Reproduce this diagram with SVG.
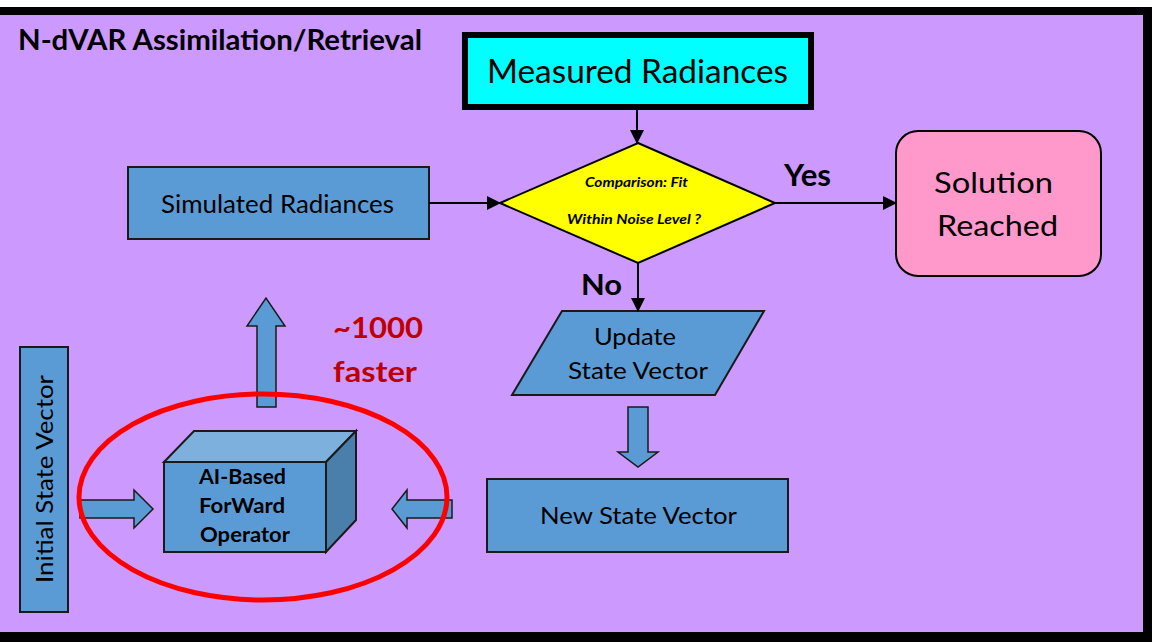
<svg xmlns="http://www.w3.org/2000/svg" width="1152" height="642" viewBox="0 0 1152 642">
<defs>
<marker id="ah" markerUnits="userSpaceOnUse" markerWidth="14" markerHeight="14" refX="13" refY="7" orient="auto">
<path d="M0,0 L14,7 L0,14 z" fill="#000"/>
</marker>
</defs>
<style>
text{font-family:Lato,"Liberation Sans",sans-serif;fill:#000}
.blue{fill:#5B9BD5;stroke:#1a1a1a;stroke-width:2}
.conn{stroke:#000;stroke-width:2;fill:none;marker-end:url(#ah)}
.barrow{fill:#5B9BD5;stroke:#1a1a1a;stroke-width:1.5}
.b{font-weight:bold}
.red{fill:#C00000}
</style>
<rect x="0" y="0" width="1152" height="642" fill="#fff"/>
<rect x="0" y="7" width="1152" height="635" fill="#000"/>
<rect x="0" y="15" width="1143" height="617" fill="#CC99FF"/>

<g id="title"><text x="18" y="50" font-size="28" class="b" textLength="404" lengthAdjust="spacingAndGlyphs">N-dVAR Assimilation/Retrieval</text></g>

<g id="measured">
<rect x="465" y="35" width="346" height="72" fill="#00FFFF" stroke="#000" stroke-width="6"/>
<text x="487" y="83" font-size="33" textLength="301" lengthAdjust="spacingAndGlyphs">Measured Radiances</text>
</g>

<g id="comparison">
<polygon points="638,143 775,203 638,263 500,203" fill="#FFFF00" stroke="#000" stroke-width="2"/>
<text x="585" y="187" font-size="14" class="b" font-style="italic" textLength="103" lengthAdjust="spacingAndGlyphs">Comparison: Fit</text>
<text x="567" y="224" font-size="14" class="b" font-style="italic" textLength="134" lengthAdjust="spacingAndGlyphs">Within Noise Level ?</text>
</g>

<g id="simulated">
<rect x="128" y="167" width="301" height="72" class="blue"/>
<text x="161" y="213" font-size="25" textLength="233" lengthAdjust="spacingAndGlyphs">Simulated Radiances</text>
</g>

<g id="solution">
<rect x="896" y="131" width="205" height="145" rx="22" fill="#FF99CC" stroke="#000" stroke-width="2"/>
<text x="934" y="193" font-size="29" textLength="119" lengthAdjust="spacingAndGlyphs">Solution</text>
<text x="937" y="236" font-size="29" textLength="121" lengthAdjust="spacingAndGlyphs">Reached</text>
</g>

<g id="update">
<polygon points="562,311 764,311 715,395 512,395" class="blue"/>
<text x="594" y="345" font-size="24" textLength="82" lengthAdjust="spacingAndGlyphs">Update</text>
<text x="568" y="379" font-size="24" textLength="140" lengthAdjust="spacingAndGlyphs">State Vector</text>
</g>

<g id="newstate">
<rect x="487" y="479" width="301" height="73" class="blue"/>
<text x="540" y="524" font-size="24" textLength="197" lengthAdjust="spacingAndGlyphs">New State Vector</text>
</g>

<g id="initial">
<rect x="20" y="347" width="48" height="265" class="blue"/>
<text transform="translate(53,583) rotate(-90)" x="0" y="0" font-size="24" textLength="208" lengthAdjust="spacingAndGlyphs">Initial State Vector</text>
</g>

<g id="operator">
<polygon points="164,462 194,431 356,431 326,462" fill="#7DB0DC" stroke="#1a1a1a" stroke-width="2"/>
<polygon points="326,462 356,431 356,520 326,552" fill="#4A7EAB" stroke="#1a1a1a" stroke-width="2"/>
<rect x="164" y="462" width="162" height="90" class="blue"/>
<text x="199" y="484" font-size="20" class="b" textLength="87" lengthAdjust="spacingAndGlyphs">AI-Based</text>
<text x="199" y="513" font-size="20" class="b" textLength="86" lengthAdjust="spacingAndGlyphs">ForWard</text>
<text x="200" y="542" font-size="20" class="b" textLength="90" lengthAdjust="spacingAndGlyphs">Operator</text>
</g>

<g id="speed-label">
<text x="333" y="338" font-size="29" class="b red" textLength="90" lengthAdjust="spacingAndGlyphs">~1000</text>
<text x="333" y="382" font-size="29" class="b red" textLength="84" lengthAdjust="spacingAndGlyphs">faster</text>
</g>

<g id="labels">
<text x="784" y="186" font-size="30" class="b" textLength="47" lengthAdjust="spacingAndGlyphs">Yes</text>
<text x="581" y="295" font-size="29" class="b" textLength="41" lengthAdjust="spacingAndGlyphs">No</text>
</g>

<g id="connectors">
<line x1="637" y1="110" x2="637" y2="143" class="conn"/>
<line x1="429" y1="203" x2="500" y2="203" class="conn"/>
<line x1="775" y1="203" x2="896" y2="203" class="conn"/>
<line x1="638" y1="263" x2="638" y2="311" class="conn"/>
<polygon class="barrow" points="628,407 648,407 648,452 658,452 638,467 618,452 628,452"/>
<polygon class="barrow" points="257,407 276,407 276,326 285,326 266,298 247,326 257,326"/>
<polygon class="barrow" points="80,500 134,500 134,490 153,509 134,528 134,518 80,518"/>
<polygon class="barrow" points="452,500 407,500 407,490 392,509 407,528 407,518 452,518"/>
</g>

<g id="highlight">
<ellipse cx="263" cy="497" rx="184" ry="103" fill="none" stroke="#FF0000" stroke-width="5"/>
</g>
</svg>
